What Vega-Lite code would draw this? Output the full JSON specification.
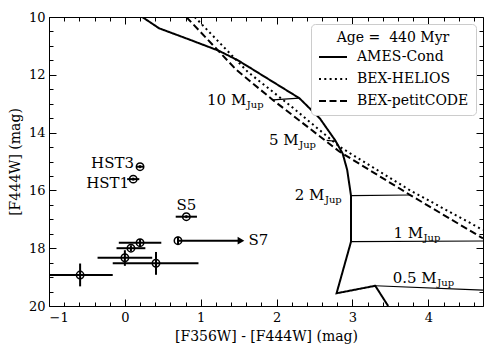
{
  "$schema": "https://vega.github.io/schema/vega-lite/v6.json",
  "width": 434,
  "height": 289,
  "autosize": {"type": "none"},
  "padding": {"left": 49, "top": 17, "right": 15, "bottom": 43},
  "background": "white",
  "config": {
    "view": {"stroke": "black", "strokeWidth": 1},
    "font": "DejaVu Serif",
    "axis": {"domain": false, "grid": false, "tickColor": "black", "tickWidth": 1, "labelColor": "black", "titleColor": "black", "labelFont": "DejaVu Serif", "titleFont": "DejaVu Serif", "labelFontSize": 13, "titleFontSize": 14, "titleFontWeight": "normal"},
    "legend": {"orient": "top-right", "offset": 7, "fillColor": "white", "strokeColor": "#cccccc", "cornerRadius": 4, "padding": 7, "titleFont": "DejaVu Serif", "titleFontSize": 14, "titleFontWeight": "normal", "titleColor": "black", "titleAnchor": "middle", "labelFont": "DejaVu Serif", "labelFontSize": 14, "labelColor": "black", "symbolType": "stroke", "symbolStrokeWidth": 2, "symbolSize": 784, "symbolStrokeColor": "black", "rowPadding": -7, "labelOffset": 9, "titlePadding": -3}
  },
  "datasets": {
    "curves": [
      {"model": "AMES-Cond", "i": 1, "x": 0.23, "y": 10.0},
      {"model": "AMES-Cond", "i": 2, "x": 0.45, "y": 10.39},
      {"model": "AMES-Cond", "i": 3, "x": 0.85, "y": 10.78},
      {"model": "AMES-Cond", "i": 4, "x": 1.24, "y": 11.17},
      {"model": "AMES-Cond", "i": 5, "x": 1.49, "y": 11.5},
      {"model": "AMES-Cond", "i": 6, "x": 1.64, "y": 11.74},
      {"model": "AMES-Cond", "i": 7, "x": 2.30, "y": 12.81},
      {"model": "AMES-Cond", "i": 8, "x": 2.57, "y": 13.51},
      {"model": "AMES-Cond", "i": 9, "x": 2.77, "y": 14.26},
      {"model": "AMES-Cond", "i": 10, "x": 2.87, "y": 14.72},
      {"model": "AMES-Cond", "i": 11, "x": 2.93, "y": 15.29},
      {"model": "AMES-Cond", "i": 12, "x": 2.97, "y": 16.0},
      {"model": "AMES-Cond", "i": 13, "x": 2.98, "y": 16.18},
      {"model": "AMES-Cond", "i": 14, "x": 2.98, "y": 17.78},
      {"model": "AMES-Cond", "i": 15, "x": 2.79, "y": 19.56},
      {"model": "AMES-Cond", "i": 16, "x": 3.30, "y": 19.30},
      {"model": "AMES-Cond", "i": 17, "x": 3.47, "y": 20.0},
      {"model": "BEX-HELIOS", "i": 1, "x": 0.92, "y": 10.0},
      {"model": "BEX-HELIOS", "i": 2, "x": 1.62, "y": 11.9},
      {"model": "BEX-HELIOS", "i": 3, "x": 2.20, "y": 13.11},
      {"model": "BEX-HELIOS", "i": 4, "x": 2.83, "y": 14.49},
      {"model": "BEX-HELIOS", "i": 5, "x": 3.76, "y": 16.0},
      {"model": "BEX-HELIOS", "i": 6, "x": 4.72, "y": 17.37},
      {"model": "BEX-petitCODE", "i": 1, "x": 0.81, "y": 10.0},
      {"model": "BEX-petitCODE", "i": 2, "x": 1.47, "y": 11.83},
      {"model": "BEX-petitCODE", "i": 3, "x": 1.95, "y": 12.87},
      {"model": "BEX-petitCODE", "i": 4, "x": 2.83, "y": 14.66},
      {"model": "BEX-petitCODE", "i": 5, "x": 3.76, "y": 16.16},
      {"model": "BEX-petitCODE", "i": 6, "x": 4.72, "y": 17.66}
    ],
    "iso": [
      {"m": "10", "i": 1, "x": 1.95, "y": 12.87},
      {"m": "10", "i": 2, "x": 2.30, "y": 12.81},
      {"m": "5", "i": 1, "x": 2.66, "y": 14.27},
      {"m": "5", "i": 2, "x": 2.78, "y": 14.3},
      {"m": "2", "i": 1, "x": 2.98, "y": 16.18},
      {"m": "2", "i": 2, "x": 3.76, "y": 16.16},
      {"m": "1", "i": 1, "x": 2.98, "y": 17.77},
      {"m": "1", "i": 2, "x": 4.72, "y": 17.75},
      {"m": "0.5", "i": 1, "x": 3.30, "y": 19.30},
      {"m": "0.5", "i": 2, "x": 4.72, "y": 19.45}
    ],
    "points": [
      {"name": "HST3", "x": 0.20, "y": 15.18, "xlo": 0.15, "xhi": 0.25, "ylo": 15.13, "yhi": 15.23},
      {"name": "HST1", "x": 0.11, "y": 15.61, "xlo": 0.03, "xhi": 0.19, "ylo": 15.56, "yhi": 15.66},
      {"name": "S5", "x": 0.81, "y": 16.91, "xlo": 0.67, "xhi": 0.95, "ylo": 16.86, "yhi": 16.96},
      {"name": "S7", "x": 0.70, "y": 17.74, "xlo": 0.70, "xhi": 0.70, "ylo": 17.6, "yhi": 17.88},
      {"name": "A", "x": -0.59, "y": 18.93, "xlo": -1.01, "xhi": -0.16, "ylo": 18.53, "yhi": 19.32},
      {"name": "B", "x": 0.00, "y": 18.33, "xlo": -0.36, "xhi": 0.36, "ylo": 18.07, "yhi": 18.61},
      {"name": "C", "x": 0.08, "y": 18.0, "xlo": -0.11, "xhi": 0.27, "ylo": 17.9, "yhi": 18.1},
      {"name": "D", "x": 0.20, "y": 17.81, "xlo": -0.08, "xhi": 0.48, "ylo": 17.68, "yhi": 17.94},
      {"name": "E", "x": 0.41, "y": 18.52, "xlo": -0.16, "xhi": 0.97, "ylo": 18.13, "yhi": 18.92}
    ],
    "arrows": [{"x": 0.70, "x2": 1.50, "y": 17.74, "tip": 1.53}],
    "lab_r": [
      {"t": "HST3", "x": 0.12, "y": 15.24},
      {"t": "HST1", "x": 0.055, "y": 15.9}
    ],
    "lab_m": [
      {"t": "10 M", "s": "Jup", "x": 1.60, "y": 13.05},
      {"t": "5 M", "s": "Jup", "x": 2.29, "y": 14.43},
      {"t": "2 M", "s": "Jup", "x": 2.63, "y": 16.33},
      {"t": "1 M", "s": "Jup", "x": 3.93, "y": 17.66},
      {"t": "0.5 M", "s": "Jup", "x": 4.11, "y": 19.21}
    ],
    "lab_c": [{"t": "S5", "x": 0.81, "y": 16.68}],
    "lab_l": [{"t": "S7", "x": 1.63, "y": 17.89}]
  },
  "layer": [
    {
      "layer": [
        {
          "data": {"name": "curves"},
          "mark": {"type": "line", "clip": true, "strokeWidth": 2, "color": "black"},
          "encoding": {
            "x": {"field": "x", "type": "quantitative", "scale": {"domain": [-1, 4.72], "nice": false, "zero": false}, "axis": null},
            "y": {"field": "y", "type": "quantitative", "scale": {"domain": [10, 20], "nice": false, "zero": false, "reverse": true}, "axis": null},
            "order": {"field": "i", "type": "quantitative"},
            "strokeDash": {"field": "model", "type": "nominal",
              "scale": {"domain": ["AMES-Cond", "BEX-HELIOS", "BEX-petitCODE"], "range": [[1, 0], [2, 3.3], [7, 3.5]]},
              "legend": {"title": "Age =\u00a0\u00a0440 Myr"}}
          }
        },
        {
          "data": {"name": "iso"},
          "mark": {"type": "line", "clip": true, "strokeWidth": 1.2, "color": "black"},
          "encoding": {
            "x": {"field": "x", "type": "quantitative", "axis": null},
            "y": {"field": "y", "type": "quantitative", "axis": null},
            "detail": {"field": "m"},
            "order": {"field": "i", "type": "quantitative"}
          }
        },
        {
          "data": {"name": "points"},
          "mark": {"type": "rule", "clip": true, "strokeWidth": 2, "color": "black"},
          "encoding": {
            "x": {"field": "xlo", "type": "quantitative", "axis": null},
            "x2": {"field": "xhi"},
            "y": {"field": "y", "type": "quantitative", "axis": null}
          }
        },
        {
          "data": {"name": "points"},
          "mark": {"type": "rule", "clip": true, "strokeWidth": 2, "color": "black"},
          "encoding": {
            "x": {"field": "x", "type": "quantitative", "axis": null},
            "y": {"field": "ylo", "type": "quantitative", "axis": null},
            "y2": {"field": "yhi"}
          }
        },
        {
          "data": {"name": "points"},
          "mark": {"type": "point", "shape": "circle", "filled": false, "stroke": "black", "strokeWidth": 1.5, "size": 55, "opacity": 1},
          "encoding": {
            "x": {"field": "x", "type": "quantitative", "axis": null},
            "y": {"field": "y", "type": "quantitative", "axis": null}
          }
        },
        {
          "data": {"name": "arrows"},
          "mark": {"type": "rule", "strokeWidth": 2, "color": "black"},
          "encoding": {
            "x": {"field": "x", "type": "quantitative", "axis": null},
            "x2": {"field": "x2"},
            "y": {"field": "y", "type": "quantitative", "axis": null}
          }
        },
        {
          "data": {"name": "arrows"},
          "mark": {"type": "point", "shape": "triangle-right", "filled": true, "color": "black", "size": 60, "opacity": 1},
          "encoding": {
            "x": {"field": "tip", "type": "quantitative", "axis": null},
            "y": {"field": "y", "type": "quantitative", "axis": null}
          }
        },
        {
          "data": {"name": "lab_r"},
          "mark": {"type": "text", "align": "right", "baseline": "alphabetic", "font": "DejaVu Serif", "fontSize": 15, "color": "black"},
          "encoding": {
            "x": {"field": "x", "type": "quantitative", "axis": null},
            "y": {"field": "y", "type": "quantitative", "axis": null},
            "text": {"field": "t"}
          }
        },
        {
          "data": {"name": "lab_m"},
          "mark": {"type": "text", "align": "right", "baseline": "alphabetic", "font": "DejaVu Serif", "fontSize": 15, "color": "black"},
          "encoding": {
            "x": {"field": "x", "type": "quantitative", "axis": null},
            "y": {"field": "y", "type": "quantitative", "axis": null},
            "text": {"field": "t"}
          }
        },
        {
          "data": {"name": "lab_m"},
          "mark": {"type": "text", "align": "left", "baseline": "alphabetic", "dy": 3, "dx": 0.5, "font": "DejaVu Serif", "fontSize": 10, "color": "black"},
          "encoding": {
            "x": {"field": "x", "type": "quantitative", "axis": null},
            "y": {"field": "y", "type": "quantitative", "axis": null},
            "text": {"field": "s"}
          }
        },
        {
          "data": {"name": "lab_c"},
          "mark": {"type": "text", "align": "center", "baseline": "alphabetic", "font": "DejaVu Serif", "fontSize": 15, "color": "black"},
          "encoding": {
            "x": {"field": "x", "type": "quantitative", "axis": null},
            "y": {"field": "y", "type": "quantitative", "axis": null},
            "text": {"field": "t"}
          }
        },
        {
          "data": {"name": "lab_l"},
          "mark": {"type": "text", "align": "left", "baseline": "alphabetic", "font": "DejaVu Serif", "fontSize": 15, "color": "black"},
          "encoding": {
            "x": {"field": "x", "type": "quantitative", "axis": null},
            "y": {"field": "y", "type": "quantitative", "axis": null},
            "text": {"field": "t"}
          }
        }
      ]
    },
    {
      "data": {"values": [{"x": 0, "y": 15}]},
      "mark": {"type": "point", "opacity": 0},
      "encoding": {
        "x": {"field": "x", "type": "quantitative",
          "axis": {"orient": "bottom", "values": [-1, 0, 1, 2, 3, 4], "tickSize": -7, "labelPadding": 12, "title": "[F356W] - [F444W] (mag)", "titlePadding": 5}},
        "y": {"field": "y", "type": "quantitative",
          "axis": {"orient": "left", "values": [10, 12, 14, 16, 18, 20], "tickSize": -7, "labelPadding": 11, "title": "[F444W] (mag)", "titlePadding": 6}}
      }
    },
    {
      "data": {"values": [{"x": 0, "y": 15}]},
      "mark": {"type": "point", "opacity": 0},
      "encoding": {
        "x": {"field": "x", "type": "quantitative",
          "axis": {"orient": "bottom", "values": [-0.8, -0.6, -0.4, -0.2, 0.2, 0.4, 0.6, 0.8, 1.2, 1.4, 1.6, 1.8, 2.2, 2.4, 2.6, 2.8, 3.2, 3.4, 3.6, 3.8, 4.2, 4.4, 4.6], "tickSize": -4, "labels": false, "title": null}},
        "y": {"field": "y", "type": "quantitative",
          "axis": {"orient": "left", "values": [10.5, 11, 11.5, 12.5, 13, 13.5, 14.5, 15, 15.5, 16.5, 17, 17.5, 18.5, 19, 19.5], "tickSize": -4, "labels": false, "title": null}}
      }
    },
    {
      "data": {"values": [{"x": 0, "y": 15}]},
      "mark": {"type": "point", "opacity": 0},
      "encoding": {
        "x": {"field": "x", "type": "quantitative",
          "axis": {"orient": "top", "values": [-1, 0, 1, 2, 3, 4], "tickSize": -7, "labels": false, "title": null}},
        "y": {"field": "y", "type": "quantitative",
          "axis": {"orient": "right", "values": [10, 12, 14, 16, 18, 20], "tickSize": -7, "labels": false, "title": null}}
      }
    },
    {
      "data": {"values": [{"x": 0, "y": 15}]},
      "mark": {"type": "point", "opacity": 0},
      "encoding": {
        "x": {"field": "x", "type": "quantitative",
          "axis": {"orient": "top", "values": [-0.8, -0.6, -0.4, -0.2, 0.2, 0.4, 0.6, 0.8, 1.2, 1.4, 1.6, 1.8, 2.2, 2.4, 2.6, 2.8, 3.2, 3.4, 3.6, 3.8, 4.2, 4.4, 4.6], "tickSize": -4, "labels": false, "title": null}},
        "y": {"field": "y", "type": "quantitative",
          "axis": {"orient": "right", "values": [10.5, 11, 11.5, 12.5, 13, 13.5, 14.5, 15, 15.5, 16.5, 17, 17.5, 18.5, 19, 19.5], "tickSize": -4, "labels": false, "title": null}}
      }
    }
  ],
  "resolve": {"scale": {"x": "shared", "y": "shared"}, "axis": {"x": "independent", "y": "independent"}}
}
